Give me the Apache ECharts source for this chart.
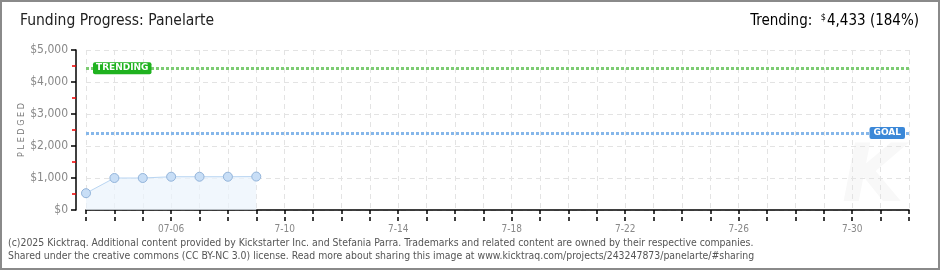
<!DOCTYPE html>
<html><head><meta charset="utf-8">
<script src="https://cdn.jsdelivr.net/npm/echarts@6/dist/echarts.min.js"></script>
<style>html,body{margin:0;padding:0;background:#fff}#c{width:940px;height:270px}</style>
</head><body><div id="c"></div>
<script>
// ---- data ----
const days = ['07-03','07-04','07-05','07-06','07-07','07-08','07-09','07-10','07-11','07-12','07-13','07-14','07-15','07-16','07-17','07-18','07-19','07-20','07-21','07-22','07-23','07-24','07-25','07-26','07-27','07-28','07-29','07-30','07-31','08-01'];
const pledged = [525, 1000, 1000, 1040, 1040, 1040, 1045];
const tickLabels = {'07-06':'07-06','07-10':'7-10','07-14':'7-14','07-18':'7-18','07-22':'7-22','07-26':'7-26','07-30':'7-30'};
const yTicks = [0, 1000, 2000, 3000, 4000, 5000];
const goal = 2410;
const trending = 4433;
const trendingPct = 184;
const projectName = 'Panelarte';

const FONT = '"Liberation Sans Narrow","DejaVu Sans Condensed",sans-serif';
const series = days.map((d, i) => i < pledged.length ? pledged[i] : null);
const fmt = v => '$' + v.toLocaleString('en-US');

const chart = echarts.init(document.getElementById('c'));
chart.setOption({
  animation: false,
  backgroundColor: '#fff',
  grid: {left: 86, right: 31, top: 50, bottom: 60},
  xAxis: [{
    type: 'category', data: days, boundaryGap: false, offset: 11,
    axisLine: {lineStyle: {color: '#000', width: 1.5}},
    axisTick: {show: true, interval: 0, length: 4, lineStyle: {color: '#000', width: 1.5}},
    axisLabel: {interval: (i, v) => tickLabels[v] !== undefined, formatter: v => tickLabels[v] || '', color: '#888', fontFamily: 'DejaVu Sans Condensed', fontSize: 10, margin: 3},
    splitLine: {show: true, interval: 0, lineStyle: {color: '#e3e3e3', type: [5, 4]}}
  }, {
    type: 'category', data: days, boundaryGap: false, offset: 11, position: 'bottom',
    axisLine: {show: false},
    axisTick: {show: true, inside: true, interval: 0, length: 4, lineStyle: {color: '#000', width: 1.5}},
    axisLabel: {show: false}, splitLine: {show: false}
  }],
  yAxis: {
    type: 'value', min: yTicks[0], max: yTicks[yTicks.length - 1], interval: 1000, offset: 10,
    name: 'P L E D G E D', nameLocation: 'middle', nameGap: 50, nameMoveOverlap: false,
    nameTextStyle: {color: '#777', fontSize: 9, fontFamily: FONT},
    axisLine: {show: true, lineStyle: {color: '#000', width: 1.5}},
    axisTick: {show: true, length: 5, lineStyle: {color: '#000', width: 1.5}},
    minorTick: {show: true, splitNumber: 2, length: 4, lineStyle: {color: '#e00', width: 1.5}},
    axisLabel: {formatter: v => fmt(v), color: '#888', fontFamily: FONT, fontSize: 12, margin: 8},
    splitLine: {show: true, lineStyle: {color: '#e3e3e3', type: [5, 4]}}
  },
  series: [{
    type: 'line', data: series, connectNulls: false,
    symbol: 'circle', symbolSize: 9,
    itemStyle: {color: '#c8def6', borderColor: '#93b4da', borderWidth: 1},
    lineStyle: {color: '#b9d5f2', width: 1},
    areaStyle: {color: '#ebf3fc'},
    markLine: {
      silent: true, symbol: 'none',
      data: [
        {yAxis: trending, lineStyle: {color: '#7ccc72', width: 3, type: [3, 2]}, label: {show: false}},
        {yAxis: goal, lineStyle: {color: '#86b7ea', width: 3, type: [3, 2]}, label: {show: false}}
      ]
    },
    markPoint: {
      silent: true, symbol: 'rect', symbolSize: 0,
      data: [
        {coord: [days[0], trending], label: {show: true, position: 'right', distance: 7, formatter: 'TRENDING',
          color: '#fff', backgroundColor: '#1fb21f', borderRadius: 2, padding: [2, 3, 1, 3], fontFamily: 'DejaVu Sans', fontSize: 9, fontWeight: 'bold'}},
        {coord: [days[days.length - 1], goal], label: {show: true, position: 'left', distance: 4, formatter: 'GOAL',
          color: '#fff', backgroundColor: '#3b88d8', borderRadius: 2, padding: [2, 4, 1, 4], fontFamily: 'DejaVu Sans', fontSize: 9, fontWeight: 'bold'}}
      ]
    }
  }],
  graphic: [
    {type: 'text', left: 842, top: 140, silent: true, z: -1, style: {text: 'K', fill: '#f8f8f8', font: 'italic bold 80px "DejaVu Sans"'}},
    {type: 'text', left: 20, top: 13, style: {text: 'Funding Progress: ' + projectName, fill: '#222', font: '15.5px ' + FONT}},
    {type: 'text', right: 21, top: 13, style: {
      text: '{a|Trending:  }{s|$}{a|' + trending.toLocaleString('en-US') + ' (' + trendingPct + '%)}',
      rich: {a: {fontSize: 15, fontFamily: FONT, color: '#222'}, s: {fontSize: 9, fontFamily: FONT, verticalAlign: 'top', color: '#222', padding: [0, 1, 7, 0]}}
    }},
    {type: 'text', left: 8, top: 237, style: {
      text: '(c)2025 Kicktraq. Additional content provided by Kickstarter Inc. and Stefania Parra. Trademarks and related content are owned by their respective companies.\nShared under the creative commons (CC BY-NC 3.0) license. Read more about sharing this image at www.kicktraq.com/projects/243247873/panelarte/#sharing',
      fill: '#555', font: '10.4px ' + FONT, lineHeight: 13}},
    {type: 'rect', silent: true, shape: {x: 1, y: 1, width: 938, height: 268}, style: {fill: 'none', stroke: '#8a8a8a', lineWidth: 2}}
  ]
});
</script></body></html>
